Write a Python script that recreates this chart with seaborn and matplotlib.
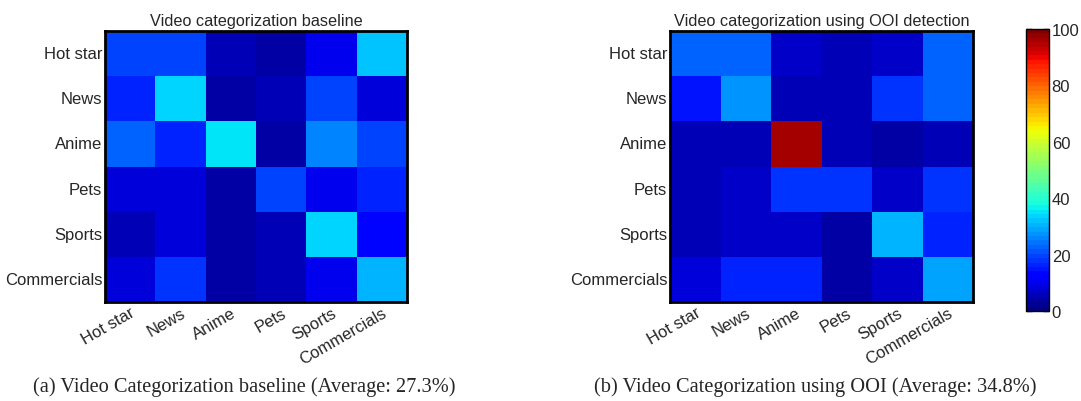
import numpy as np
import pandas as pd
import matplotlib
matplotlib.use("Agg")
import matplotlib.pyplot as plt
import seaborn as sns

categories = ["Hot star", "News", "Anime", "Pets", "Sports", "Commercials"]

baseline = [
    [20, 20, 5, 3.5, 9.5, 32],
    [16.5, 33.6, 4, 5, 20, 9],
    [23.3, 16.5, 35.5, 3.5, 25.7, 20],
    [8.5, 8.5, 4, 20, 9.5, 17],
    [5, 8.5, 4, 5, 33.6, 14],
    [8.5, 17.5, 4, 5, 9.5, 30],
]

ooi = [
    [22, 23, 7, 5.5, 7, 23],
    [15, 28, 5, 5.5, 17.9, 23],
    [5, 5.5, 96, 5.5, 4, 5.5],
    [5, 6.5, 17.5, 17.5, 7, 17.5],
    [5, 7, 7, 3.5, 31, 17],
    [9, 16, 16, 3.5, 6.5, 29],
]

titles = ["Video categorization baseline", "Video categorization using OOI detection"]
captions = ["(a) Video Categorization baseline (Average: 27.3%)",
            "(b) Video Categorization using OOI (Average: 34.8%)"]
cbar_ticks = [0, 20, 40, 60, 80, 100]

sns.set_theme(style="white")
plt.rcParams['font.family'] = ['Liberation Sans', 'DejaVu Sans']

cmap = plt.get_cmap('jet', 64)

fig = plt.figure(figsize=(10.81, 4.02), dpi=100)
ax1 = fig.add_axes([0.0971, 0.2463, 0.2794, 0.674])
ax2 = fig.add_axes([0.6198, 0.2463, 0.2803, 0.674])
cax = fig.add_axes([0.949, 0.2239, 0.0213, 0.7015])

for ax, data, title, show_cbar in [(ax1, baseline, titles[0], False), (ax2, ooi, titles[1], True)]:
    df = pd.DataFrame(data, index=categories, columns=categories)
    sns.heatmap(df, ax=ax, cmap=cmap, vmin=0, vmax=100, cbar=show_cbar,
                cbar_ax=cax if show_cbar else None, square=False)
    ax.set_title(title, fontsize=11.7, pad=4)
    for s in ax.spines.values():
        s.set_visible(True)
        s.set_linewidth(2)
        s.set_color('black')
    ax.tick_params(axis='both', direction='in', length=4, width=1.5, color='black',
                   top=True, right=True, bottom=True, left=True, labelsize=12, pad=2)
    ax.set_yticklabels(categories, rotation=0)
    ax.set_xticklabels(categories, rotation=30, ha='right', rotation_mode='anchor')
    ax.set_xlabel("")
    ax.set_ylabel("")

cb = ax2.collections[0].colorbar
cb.set_ticks(cbar_ticks)
cb.ax.tick_params(direction='in', length=4, width=1, labelsize=12, right=True, left=True, pad=2)
cb.outline.set_visible(True)
cb.outline.set_linewidth(1)
cb.outline.set_edgecolor('black')

fig.text(0.2257, 0.037, captions[0], ha='center', va='center', fontsize=14.7, family=['Liberation Serif'])
fig.text(0.754, 0.037, captions[1], ha='center', va='center', fontsize=14.7, family=['Liberation Serif'])

fig.savefig("out.png", dpi=100)
